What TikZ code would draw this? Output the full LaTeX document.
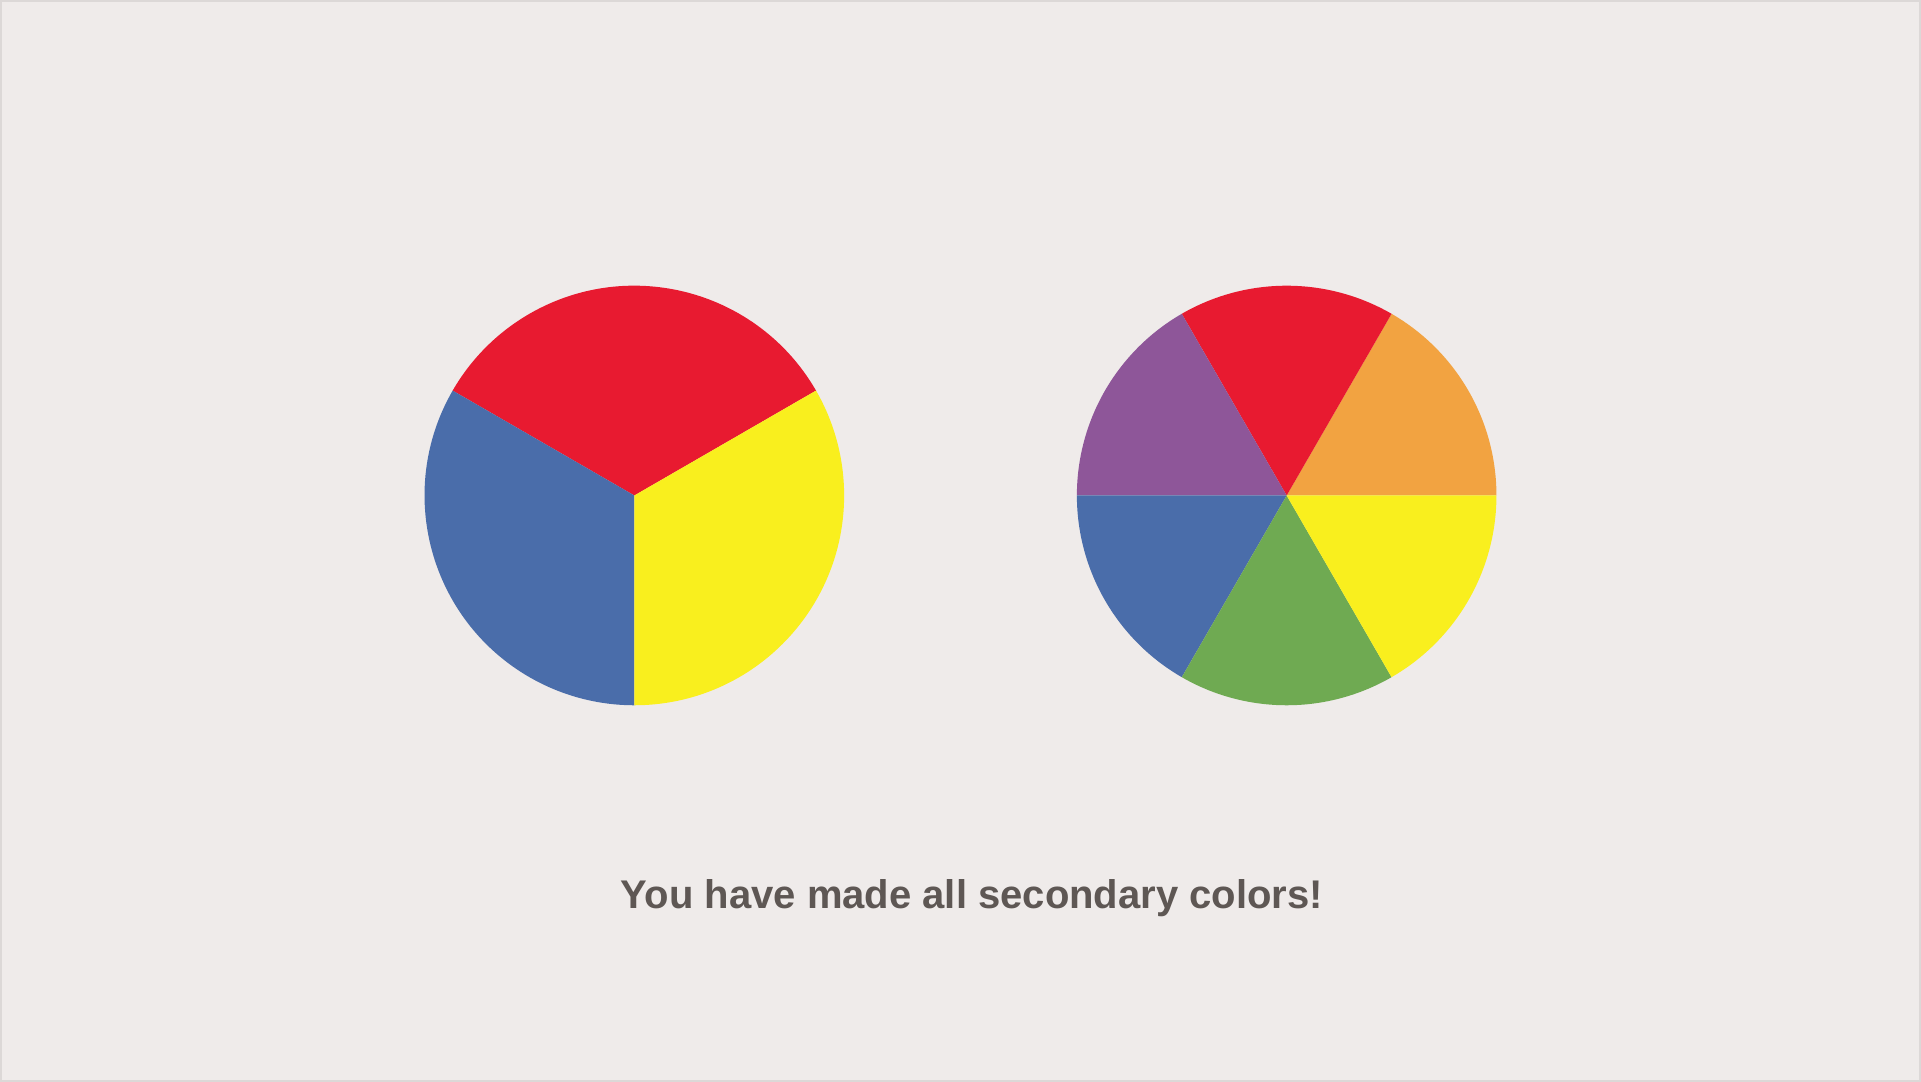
\documentclass[tikz,border=0pt]{standalone}
\usepackage{fontspec}
\setmainfont{Liberation Sans}
\definecolor{sfondo}{HTML}{EFEBEA}
\definecolor{bordo}{HTML}{DCD8D7}
\definecolor{rosso}{HTML}{E81A30}
\definecolor{blu}{HTML}{4A6DAA}
\definecolor{giallo}{HTML}{F9EF1E}
\definecolor{arancio}{HTML}{F2A341}
\definecolor{viola}{HTML}{8E5699}
\definecolor{verde}{HTML}{6FAA52}
\definecolor{testo}{HTML}{5E5754}
\begin{document}
\begin{tikzpicture}[x=0.02cm,y=0.02cm]
        %sfondo
        \fill[sfondo](0,0)rectangle(1921,1081);
        \draw[bordo,line width=0.04cm](0,0)rectangle(1921,1081);
        \useasboundingbox(0,0)rectangle(1921,1081);

        %ruota primaria
        \coordinate (P) at (634,586);
        \foreach \a/\b/\c in {30/150/rosso,150/270/blu,270/390/giallo}
            \fill[\c] (P)--++(\a:210)arc[start angle=\a,end angle=\b,radius=210]--cycle;

        %ruota secondaria
        \coordinate (S) at (1287,586);
        \foreach \a/\b/\c in {0/60/arancio,60/120/rosso,120/180/viola,180/240/blu,240/300/verde,300/360/giallo}
            \fill[\c] (S)--++(\a:210)arc[start angle=\a,end angle=\b,radius=210]--cycle;

        %scritta
        \node[anchor=base,inner sep=0pt,text=testo,font=\fontsize{22.8pt}{26pt}\selectfont\bfseries] (msg) at (972,173){You have made all secondary colors!};

    \end{tikzpicture}
\end{document}
